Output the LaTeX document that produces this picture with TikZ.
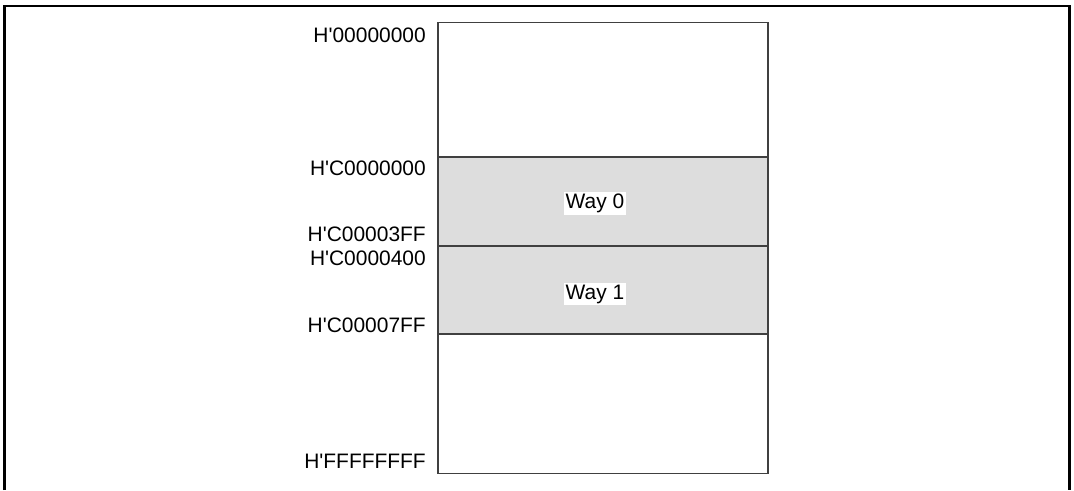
\documentclass[tikz,border=0pt]{standalone}
\usepackage{fontspec}
\setmainfont{Liberation Sans}
\usepackage{xcolor}
\usepackage{tikz}
\usetikzlibrary{positioning, calc}
\definecolor{waygray}{RGB}{221,221,221}
\newcommand{\hq}{H\textquotesingle}

\begin{document}
\begin{tikzpicture}[x=0.75pt, y=0.75pt,
        every node/.style={font=\fontsize{15.7}{18}\selectfont},
        area/.style={draw=black!75, line width=0.9pt, minimum width=247.5pt, inner sep=0pt, outer sep=0pt},
        addr/.style={inner sep=0pt, anchor=east},
        wlabel/.style={fill=white, inner sep=1.5pt}]
      \useasboundingbox (0,0) rectangle (1074,490);
      % open frame round the figure
      \draw[line width=2pt] (4.5,0) |- (1069.5,484) -- (1069.5,0);

      % memory map, top to bottom
      \node[area, minimum height=100.9pt, anchor=north west] (blk0) at (438,467.5) {};
      \node[area, fill=waygray, minimum height=66.75pt, below=0pt of blk0] (way0) {};
      \node[area, fill=waygray, minimum height=66pt, below=0pt of way0] (way1) {};
      \node[area, minimum height=104.6pt, below=0pt of way1] (blk1) {};

      \node[wlabel] (w0) at ($(way0.center)+(-8,-2)$) {Way 0};
      \node[wlabel] (w1) at ($(way1.center)+(-8,-4)$) {Way 1};

      % addresses
      \node[addr] (a0) at ($(blk0.north west)+(-12,-12.5)$) {\hq00000000};
      \node[addr] (a1) at ($(way0.north west)+(-12,-11)$) {\hq C0000000};
      \node[addr] (a2) at ($(way0.south west)+(-12,12)$) {\hq C00003FF};
      \node[addr] (a3) at ($(way1.north west)+(-12,-12)$) {\hq C0000400};
      \node[addr] (a4) at ($(way1.south west)+(-12,9)$) {\hq C00007FF};
      \node[addr] (a5) at ($(blk1.south west)+(-12,12)$) {\hq FFFFFFFF};
    \end{tikzpicture}
\end{document}
